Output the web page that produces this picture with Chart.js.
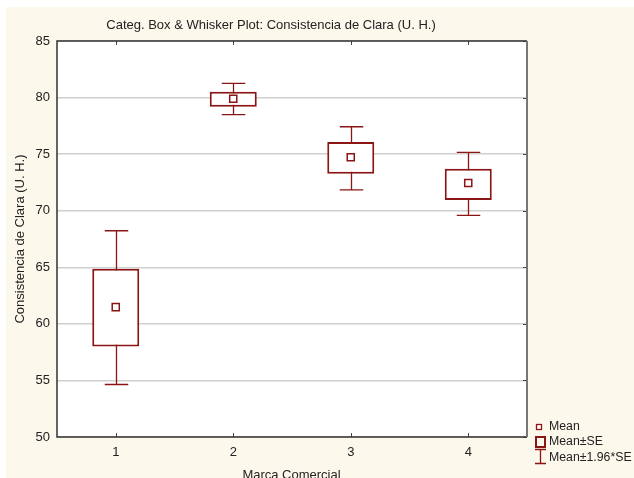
<!DOCTYPE html>
<html>
<head>
<meta charset="utf-8">
<script src="https://cdn.jsdelivr.net/npm/chart.js@4/dist/chart.umd.min.js"></script>
<style>
  html, body { margin: 0; padding: 0; background: #fff; }
  #wrap { width: 634px; height: 478px; }
</style>
</head>
<body>
<div id="wrap"><canvas id="chart" width="634" height="478"></canvas></div>
<script>
// values
const marcas = ['1', '2', '3', '4'];
const means = [61.48, 79.9, 74.72, 72.45];
const seLow = [58.0, 79.19, 73.27, 70.94];
const seHigh = [64.87, 80.52, 76.07, 73.71];
const ciLow = [54.64, 78.49, 71.85, 69.59];
const ciHigh = [68.23, 81.26, 77.42, 75.16];
const yTicks = [50, 55, 60, 65, 70, 75, 80, 85];

const RED = '#8b1414';
const CREAM = '#fdf8ec';
const FONT = '"Liberation Sans", Arial, sans-serif';

const seBoxes = marcas.map((m, i) => [seLow[i], seHigh[i]]);

// background + frame + whiskers + titles + legend
const decor = {
  id: 'decor',
  beforeDraw(chart) {
    const ctx = chart.ctx, a = chart.chartArea;
    ctx.save();
    ctx.fillStyle = '#fff';
    ctx.fillRect(0, 0, chart.width, chart.height);
    ctx.fillStyle = CREAM;
    ctx.fillRect(6, 7, chart.width - 6, chart.height - 7);
    ctx.fillStyle = '#fff';
    ctx.fillRect(a.left, a.top, a.right - a.left, a.bottom - a.top);
    ctx.restore();
  },
  beforeDatasetsDraw(chart) {
    const ctx = chart.ctx, x = chart.scales.x, y = chart.scales.y;
    const boxW = chart.getDatasetMeta(0).data[0].width;
    ctx.save();
    ctx.strokeStyle = RED;
    ctx.lineWidth = 1.3;
    marcas.forEach((m, i) => {
      const cx = Math.round(x.getPixelForValue(i)) + 0.5;
      const top = y.getPixelForValue(ciHigh[i]);
      const bot = y.getPixelForValue(ciLow[i]);
      const hw = boxW / 4;
      ctx.beginPath();
      ctx.moveTo(cx, top); ctx.lineTo(cx, bot);
      ctx.moveTo(cx - hw, top); ctx.lineTo(cx + hw, top);
      ctx.moveTo(cx - hw, bot); ctx.lineTo(cx + hw, bot);
      ctx.stroke();
    });
    ctx.restore();
  },
  afterDraw(chart) {
    const ctx = chart.ctx, a = chart.chartArea, x = chart.scales.x, y = chart.scales.y;
    ctx.save();
    // inner tick marks
    ctx.strokeStyle = '#444';
    ctx.lineWidth = 1;
    ctx.beginPath();
    marcas.forEach((m, i) => {
      const px = Math.round(x.getPixelForValue(i)) + 0.5;
      ctx.moveTo(px, a.top); ctx.lineTo(px, a.top + 4);
      ctx.moveTo(px, a.bottom); ctx.lineTo(px, a.bottom - 4);
    });
    yTicks.forEach(v => {
      const py = Math.round(y.getPixelForValue(v)) + 0.5;
      ctx.moveTo(a.right, py); ctx.lineTo(a.right - 4, py);
    });
    ctx.stroke();
    // frame
    ctx.lineWidth = 1.5;
    ctx.strokeStyle = '#333';
    ctx.beginPath();
    ctx.moveTo(a.right, a.top); ctx.lineTo(a.left, a.top);
    ctx.lineTo(a.left, a.bottom); ctx.lineTo(a.right, a.bottom);
    ctx.stroke();
    ctx.strokeStyle = '#777';
    ctx.lineWidth = 2;
    ctx.beginPath();
    ctx.moveTo(a.right, a.top); ctx.lineTo(a.right, a.bottom);
    ctx.stroke();

    // titles
    ctx.fillStyle = '#222';
    ctx.font = '13px ' + FONT;
    ctx.textAlign = 'center';
    ctx.textBaseline = 'middle';
    ctx.fillText('Categ. Box & Whisker Plot: Consistencia de Clara (U. H.)', 271, 25);
    ctx.fillText('Marca Comercial', 291.5, 475);
    ctx.save();
    ctx.translate(20, (a.top + a.bottom) / 2);
    ctx.rotate(-Math.PI / 2);
    ctx.fillText('Consistencia de Clara (U. H.)', 0, 0);
    ctx.restore();

    // legend
    ctx.font = '12.3px ' + FONT;
    ctx.textAlign = 'left';
    ctx.fillText('Mean', 549, 427);
    ctx.fillText('Mean\u00b1SE', 549, 442);
    ctx.fillText('Mean\u00b11.96*SE', 549, 458);
    ctx.strokeStyle = RED;
    ctx.lineWidth = 1.3;
    ctx.fillStyle = '#fff';
    ctx.fillRect(536, 424, 6, 6);
    ctx.strokeRect(536.5, 424.5, 5, 5);
    ctx.lineWidth = 2;
    ctx.strokeRect(536, 437, 9, 10);
    ctx.lineWidth = 1.3;
    ctx.beginPath();
    ctx.moveTo(540.5, 449); ctx.lineTo(540.5, 463);
    ctx.moveTo(535, 449.5); ctx.lineTo(546, 449.5);
    ctx.moveTo(535, 463.5); ctx.lineTo(546, 463.5);
    ctx.stroke();
    ctx.restore();
  }
};

new Chart(document.getElementById('chart'), {
  type: 'bar',
  data: {
    labels: marcas,
    datasets: [
      {
        label: 'Mean\u00b1SE',
        data: seBoxes,
        backgroundColor: '#fff',
        borderColor: RED,
        borderWidth: 2,
        borderSkipped: false,
        barPercentage: 0.4,
        categoryPercentage: 1,
        order: 1
      },
      {
        type: 'line',
        label: 'Mean',
        data: means,
        showLine: false,
        pointStyle: 'rect',
        pointRadius: 5,
        pointBorderWidth: 1.5,
        pointBorderColor: RED,
        pointBackgroundColor: '#fff',
        order: 0
      }
    ]
  },
  options: {
    responsive: false,
    animation: false,
    events: [],
    layout: { padding: { left: 0, top: 41, right: 107, bottom: 0 } },
    plugins: {
      legend: { display: false },
      title: { display: false },
      tooltip: { enabled: false }
    },
    scales: {
      x: {
        offset: true,
        grid: { display: false, drawTicks: false },
        border: { display: false },
        ticks: { color: '#222', font: { family: FONT, size: 13 }, padding: 8 },
        afterFit(s) { s.height = 41; }
      },
      y: {
        min: 50,
        max: 85,
        afterBuildTicks(s) { s.ticks = yTicks.map(v => ({ value: v })); },
        grid: { color: '#d0d0d0', lineWidth: 1.5, drawTicks: false },
        border: { display: false },
        ticks: { color: '#222', font: { family: FONT, size: 13 }, padding: 7 },
        afterFit(s) { s.width = 57; }
      }
    }
  },
  plugins: [decor]
});
</script>
</body>
</html>
